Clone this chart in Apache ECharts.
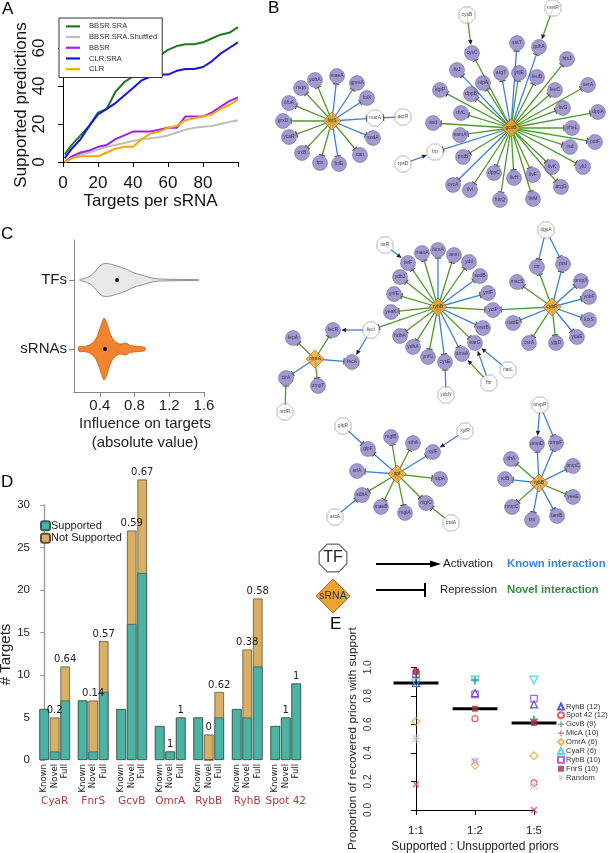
<!DOCTYPE html>
<html><head><meta charset="utf-8">
<script src="https://cdn.jsdelivr.net/npm/echarts@6/dist/echarts.min.js"></script>
<style>html,body{margin:0;padding:0;background:#fff}#c{width:609px;height:853px}</style>
</head><body><div id="c"></div>
<script>
// ================= DATA =================
// Panel A
const targetsPerSrna = [1,5,10,15,20,25,30,35,40,45,50,55,60,65,70,75,80,85,90,95,100];
const bbsrSra   = [4,9,14,19,26,28,37,42,45,50,53,56,59,61,62,62,63,65,67,68,71];
const bbsrSraSh = [0,2,4,5,6.5,8,9,10,11,12,12.5,13,14,15.5,17,18,18.5,19,20,21,22];
const bbsr      = [0,3,5,6,8,9,12,14,16,16,16,17,18,18,24,24,24,26,29,32,34];
const clrSra    = [2,7,12,19,25,28,31,35,39,43,45,46,46,48,49,49,50,53,57,60,63];
const clr       = [0,2,3,3,3,5,7,8,8,12,15,16,18,19,22,23,24,25,28,30,33];
const methodNames = ['BBSR.SRA','BBSR.SRA.Shuffled','BBSR','CLR.SRA','CLR'];

// Panel C (violin density estimates)
const violinNames = ['sRNAs','TFs'];
const tfViolinX   = [0.17,0.22,0.29,0.35,0.40,0.45,0.52,0.60,0.70,0.80,0.90,1.00,1.10,1.30,1.54];
const tfViolinD   = [0.5,1.5,4,9,14,16.5,16,14,11,7,4.5,2,1,0.6,0.3];
const srnaViolinX = [0.16,0.22,0.28,0.34,0.38,0.42,0.45,0.48,0.52,0.57,0.63,0.70,0.75,0.85,0.92];
const srnaViolinD = [2.5,2.5,4,8,15,25,31,26,15,8,5,6,3.5,2.5,1.5];
const violinMedians = [0.46,0.60];
const influenceTicks = [0.4,0.8,1.2,1.6];

// Panel D
const srnaGroups = ['CyaR','FnrS','GcvB','OmrA','RybB','RyhB','Spot 42'];
const barKinds = ['Known','Novel','Full'];
const supportedCounts    = [[6,1,7],[7,1,8],[6,16,22],[4,1,5],[5,0,5],[6,5,11],[4,5,9]];
const notSupportedCounts = [[0,4,4],[0,6,6],[0,11,11],[0,0,0],[0,3,3],[0,8,8],[0,0,0]];
const fractionLabels = [['','0.2','0.64'],['','0.14','0.57'],['','0.59','0.67'],['','1','1'],['','0','0.62'],['','0.38','0.58'],['','1','1']];

// Panel E
const ratioLabels = ['1:1','1:2','1:5'];
const eNames = ['RyhB (12)','Spot 42 (12)','GcvB (9)','MicA (10)','OmrA (6)','CyaR (6)','RybB (10)','FnrS (10)','Random'];
const propRyhB   = [0.89,0.82,0.74];
const propSpot42 = [0.97,0.64,0.19];
const propGcvB   = [0.93,0.91,0.635];
const propMicA   = [0.18,0.34,0.0];
const propOmrA   = [0.62,0.315,0.38];
const propCyaR   = [0.89,0.91,0.91];
const propRybB   = [0.95,0.81,0.78];
const propFnrS   = [0.97,0.71,0.61];
const propRandom = [0.50,0.34,0.17];
const propMedians = [0.89,0.71,0.61];

// Panel B network (layout positions)
const nodeName = ['fnrS','yobA','maeA','gpmA','folX','marA','acrR','sodA','can','folE','tpx','trxB','ycaR','grxD','nfuA','mqo',
 'gcvB','cysB','metR','cysC','sstT','gdhA','livJ','argT','yhjE','leuB','hisJ','nlpA','kgtP','dppB','leuC','serA','thrC','livG','dppA','asd','eamA','pheL','potF','trp','rpsD','pntB','rsd','livK','yliJ','cycA','ilvI','dppC','livH','livF','argG','hisQ','livM',
 'ryhB','isrR','isrF','manA','fumA','amn','ydiI','sodB','ydbJ','ynfF','ynfE','yeaK','yctP','msrB','hdhA','ydhA','ynfG','cysE','dmsA','narG','narL','fnr','ydcN','fecI',
 'cyaR','dgsA','crr','ptsI','mscS','ompX','yobF','luxS','yqaE','yjgD','csrA','nadE',
 'omrA','fepA','fecR','fecA','cirA','ompT','nrdR',
 'spf','glpR','glpF','mglB','sthA','xylF','xylR','stpA','srlA','sdhA','maeB','mglA','mglC','arcA','putA',
 'rybB','ompR','ompD','ompF','rihA','ompC','rclB','yeeE','nmpC','tsx','lamB'];
const nodeX = [332,315,337,357,367,375,403,373,360,339,320,302,289,283,289,301,
 511,467,553,472,517,539,457,501,519,537,567,483,440,471,555,588,461,563,598,433,460,572,595,435,403,463,570,552,583,453,470,494,514,533,561,500,533,
 438,385,408,422,438,454,469,480,400,488,394,391,493,483,400,413,428,445,462,475,508,489,446,371,
 552,546,537,563,517,581,589,589,577,556,529,513,
 315,293,333,352,286,318,285,
 397,343,368,391,413,433,465,440,357,362,381,405,426,335,451,
 539,540,537,556,511,573,505,573,512,532,557];
const nodeY = [121,80,76,83,98,118,117,138,155,164,163,153,137,121,103,88,
 128,15,8,53,43,47,70,73,73,77,59,83,90,94,90,85,113,108,112,123,135,128,142,152,164,157,147,167,167,185,190,173,178,175,187,200,199,
 307,245,263,253,250,255,262,276,277,293,294,312,310,328,336,347,357,362,354,343,370,383,395,330,
 307,230,267,264,282,281,297,320,337,343,343,323,
 359,338,330,362,378,386,412,
 474,426,449,437,443,452,431,479,471,495,507,513,503,517,523,
 483,405,444,443,459,466,479,497,507,520,516];
const nodeKind = ['S','T','T','T','T','F','F','T','T','T','T','T','T','T','T','T',
 'S','F','F','T','T','T','T','T','T','T','T','T','T','T','T','T','T','T','T','T','T','T','T','F','F','T','T','T','T','T','T','T','T','T','T','T','T',
 'S','F','T','T','T','T','T','T','T','T','T','T','T','T','T','T','T','T','T','T','F','F','F','F',
 'S','F','T','T','T','T','T','T','T','T','T','T',
 'S','T','T','T','T','T','F',
 'S','F','T','T','T','T','F','T','T','T','T','T','T','F','F',
 'S','F','T','T','T','T','T','T','T','T','T'];
// edges: [regulator, target, known(1)/novel(0), activation(1)/repression(0)]
const edgeList = [
 ['fnrS','yobA',0,0],['fnrS','maeA',1,0],['fnrS','gpmA',1,0],['fnrS','folX',1,0],['fnrS','marA',1,0],['fnrS','sodA',1,0],['fnrS','can',0,0],['fnrS','folE',1,0],['fnrS','tpx',0,0],['fnrS','trxB',0,0],['fnrS','ycaR',0,0],['fnrS','grxD',0,0],['fnrS','nfuA',0,0],['fnrS','mqo',0,0],['acrR','marA',1,0],
 ['cysB','cysC',0,1],['metR','gdhA',0,1],['rpsD','trp',1,1],
 ['gcvB','cysC',0,0],['gcvB','sstT',1,0],['gcvB','gdhA',1,0],['gcvB','livJ',1,0],['gcvB','argT',1,0],['gcvB','yhjE',0,0],['gcvB','leuB',0,0],['gcvB','hisJ',0,0],['gcvB','nlpA',0,0],['gcvB','kgtP',0,0],['gcvB','dppB',0,0],['gcvB','leuC',0,0],['gcvB','serA',0,0],['gcvB','thrC',0,0],['gcvB','livG',0,0],['gcvB','dppA',0,0],['gcvB','asd',0,0],['gcvB','eamA',0,0],['gcvB','pheL',0,0],['gcvB','potF',0,0],['gcvB','trp',1,0],['gcvB','pntB',0,0],['gcvB','rsd',0,0],['gcvB','livK',0,0],['gcvB','yliJ',0,0],['gcvB','cycA',1,0],['gcvB','ilvI',0,0],['gcvB','dppC',0,0],['gcvB','livH',0,0],['gcvB','livF',0,0],['gcvB','argG',0,0],['gcvB','hisQ',0,0],['gcvB','livM',0,0],
 ['isrR','isrF',1,1],['ryhB','isrF',0,0],['ryhB','manA',0,0],['ryhB','fumA',1,0],['ryhB','amn',0,0],['ryhB','ydiI',0,0],['ryhB','sodB',1,0],['ryhB','ydbJ',0,0],['ryhB','ynfF',1,0],['ryhB','ynfE',0,0],['ryhB','yeaK',0,0],['ryhB','yctP',0,0],['ryhB','msrB',1,0],['ryhB','hdhA',0,0],['ryhB','ydhA',0,0],['ryhB','ynfG',0,0],['ryhB','cysE',1,0],['ryhB','dmsA',1,0],['ryhB','narG',0,0],['ryhB','fecI',0,0],
 ['narL','narG',1,1],['fnr','narG',1,1],['fnr','dmsA',0,1],['ydcN','cysE',1,0],
 ['dgsA','crr',1,0],['dgsA','ptsI',1,0],['cyaR','crr',0,0],['cyaR','ptsI',1,0],['cyaR','mscS',0,0],['cyaR','ompX',1,0],['cyaR','yobF',1,0],['cyaR','luxS',1,0],['cyaR','yqaE',1,0],['cyaR','yjgD',0,0],['cyaR','csrA',0,0],['cyaR','nadE',1,0],['cyaR','yctP',0,0],
 ['omrA','fepA',0,0],['omrA','fecR',0,0],['omrA','fecA',1,0],['omrA','cirA',1,0],['omrA','ompT',0,0],['fecI','fecR',1,1],['fecI','fecA',1,1],['nrdR','cirA',0,0],
 ['glpR','glpF',1,0],['spf','glpF',1,0],['spf','mglB',0,0],['spf','sthA',0,0],['spf','xylF',1,0],['xylR','xylF',1,1],['spf','stpA',0,0],['spf','srlA',1,0],['spf','sdhA',0,0],['spf','maeB',0,0],['spf','mglA',0,0],['spf','mglC',0,0],['arcA','sdhA',1,0],['putA','mglC',0,0],
 ['ompR','ompD',1,1],['ompR','ompF',1,0],['rybB','ompD',1,0],['rybB','ompF',1,0],['rybB','rihA',0,0],['rybB','ompC',1,0],['rybB','rclB',1,0],['rybB','yeeE',0,0],['rybB','nmpC',0,0],['rybB','tsx',1,0],['rybB','lamB',1,0]
];

// ================= BUILD =================
const FONT = 'Liberation Sans, Arial, sans-serif';
const chart = echarts.init(document.getElementById('c'), null, {renderer:'canvas'});
const zip = (xs, ys) => xs.map((x,i)=>[x, ys[i]]);

// ---- A
const aColors = ['#1f7a1f','#bebebe','#a020f0','#1515e6','#ffa500'];
const aData = [bbsrSra, bbsrSraSh, bbsr, clrSra, clr];
const seriesA = methodNames.map((n,i)=>({
  name:n, type:'line', xAxisIndex:0, yAxisIndex:0, data: zip(targetsPerSrna, aData[i]),
  showSymbol:false, symbol:'none', clip:false, lineStyle:{width:2, color:aColors[i]}, itemStyle:{color:aColors[i]}, z: 2 + (i===1?0:1)
}));

// ---- C
const violins = [
  {x:srnaViolinX, d:srnaViolinD, fill:'#f28130', stroke:'#e06a1a'},
  {x:tfViolinX, d:tfViolinD, fill:'#e8e8e8', stroke:'#8e8e8e'}
];
const violinScale = 1.0;
const seriesC = [{
  type:'custom', xAxisIndex:1, yAxisIndex:1, clip:false,
  data: violinNames.map((n,i)=>[violinMedians[i], i+1, i]),
  encode:{x:0, y:1},
  renderItem: function(params, api){
    const v = violins[api.value(2)];
    const pos = api.value(1);
    const top=[], bot=[];
    for (let i=0;i<v.x.length;i++){
      const p = api.coord([v.x[i], pos]);
      top.push([p[0], p[1]-v.d[i]*violinScale]);
      bot.unshift([p[0], p[1]+v.d[i]*violinScale]);
    }
    const m = api.coord([api.value(0), pos]);
    return {type:'group', children:[
      {type:'polygon', shape:{points: top.concat(bot), smooth:0.25}, style:{fill:v.fill, stroke:v.stroke, lineWidth:1}},
      {type:'circle', shape:{cx:m[0], cy:m[1], r:2}, style:{fill:'#000'}}
    ]};
  }
}];

// ---- D
const barSpace = 11, barStep = 3;
const barPos = [], barLabelMap = {}, groupPos = [], groupLabelMap = {};
const totalData = [], suppData = [];
srnaGroups.forEach((g,gi)=>{
  const c = gi*barSpace + barStep;
  groupPos.push(c); groupLabelMap[c] = g;
  barKinds.forEach((k,bi)=>{
    const p = gi*barSpace + bi*barStep;
    barPos.push(p); barLabelMap[p] = k;
    const s = supportedCounts[gi][bi], ns = notSupportedCounts[gi][bi];
    const lab = fractionLabels[gi][bi];
    totalData.push({value:[p, s+ns], label:{show: lab!=='' , formatter: lab}});
    suppData.push([p, s]);
  });
});
const seriesD = [
  {name:'Not Supported', type:'bar', xAxisIndex:2, yAxisIndex:2, barWidth:9.6, barGap:'-100%', clip:false,
   itemStyle:{color:'#d8b062', borderColor:'#5a5040', borderWidth:0.8}, data: totalData,
   label:{position:'top', distance:2, fontSize:10, color:'#222', fontFamily:'DejaVu Sans'}},
  {name:'Supported', type:'bar', xAxisIndex:2, yAxisIndex:2, barWidth:9.6, barGap:'-100%', clip:false,
   itemStyle:{color:'#4bb3a4', borderColor:'#3a5a55', borderWidth:0.8}, data: suppData}
];

// ---- E
const plusPath = 'path://M4,0h2v4h4v2h-4v4h-2v-4h-4v-2h4z';
const starPath = 'path://M4.3,0h1.4v10h-1.4z M0,4.3h10v1.4h-10z M1.2,0.2L9.8,8.8L8.8,9.8L0.2,1.2z M8.8,0.2L9.8,1.2L1.2,9.8L0.2,8.8z';
const eValues = [propRyhB, propSpot42, propGcvB, propMicA, propOmrA, propCyaR, propRybB, propFnrS, propRandom];
const eStyle = [
  {symbol:'triangle', size:7, color:'#2b35c8', open:true},
  {symbol:'circle', size:6, color:'#e03838', open:true},
  {symbol:plusPath, size:8, color:'#19884a', open:false},
  {symbol:plusPath, size:8, color:'#d040a0', open:false, rot:45},
  {symbol:'diamond', size:8, color:'#f0a020', open:true},
  {symbol:'triangle', size:8, color:'#26d0e6', open:true, rot:180},
  {symbol:'rect', size:6.5, color:'#9a40d8', open:true},
  {symbol:'rect', size:6, color:'#a8304a', open:false},
  {symbol:starPath, size:9, color:'#c8c8c8', open:false}
];
const seriesE = eNames.map((n,i)=>{
  const st = eStyle[i];
  return {name:n, type:'scatter', xAxisIndex:4, yAxisIndex:3, clip:false, z:4,
    data: eValues[i].map((v,j)=>[j, v]), symbol: st.symbol, symbolSize: st.size, symbolRotate: st.rot||0,
    itemStyle: st.open ? {color:'rgba(255,255,255,0)', borderColor:st.color, borderWidth:1.2} : {color:st.color}};
});
seriesE.unshift({type:'custom', xAxisIndex:4, yAxisIndex:3, clip:false, z:3,
  data: propMedians.map((v,j)=>[j, v]),
  renderItem: function(params, api){
    const a = api.coord([api.value(0)-0.38, api.value(1)]);
    const b = api.coord([api.value(0)+0.38, api.value(1)]);
    return {type:'line', shape:{x1:a[0], y1:a[1], x2:b[0], y2:b[1]}, style:{stroke:'#000', lineWidth:3}};
  }});

// ---- B network
const idx = {}; nodeName.forEach((n,i)=> idx[n]=i);
const radiusOf = {T:7.5, F:8, S:8.5};
const BLUE = '#3a80d8', GREEN = '#4e9a2c';
const edgeData = edgeList.map(e=>{
  const a = idx[e[0]], b = idx[e[1]];
  return [nodeX[a], nodeY[a], nodeX[b], nodeY[b], e[2], e[3], radiusOf[nodeKind[b]]];
});
const seriesBEdges = {type:'custom', xAxisIndex:5, yAxisIndex:4, clip:false, z:1, silent:true,
  data: edgeData,
  renderItem: function(params, api){
    const a = api.coord([api.value(0), api.value(1)]);
    const b = api.coord([api.value(2), api.value(3)]);
    const known = api.value(4), act = api.value(5), r = api.value(6);
    const dx=b[0]-a[0], dy=b[1]-a[1], L=Math.hypot(dx,dy)||1; const ux=dx/L, uy=dy/L;
    const e=[b[0]-ux*(r+0.6), b[1]-uy*(r+0.6)];
    const px=-uy, py=ux;
    const col = known ? BLUE : GREEN;
    const ch = [];
    if (act){
      const base=[e[0]-ux*5, e[1]-uy*5];
      ch.push({type:'line', shape:{x1:a[0],y1:a[1],x2:base[0],y2:base[1]}, style:{stroke:col, lineWidth:1.3}});
      ch.push({type:'polygon', shape:{points:[e,[base[0]+px*2.2,base[1]+py*2.2],[base[0]-px*2.2,base[1]-py*2.2]]}, style:{fill:'#222'}});
    } else {
      ch.push({type:'line', shape:{x1:a[0],y1:a[1],x2:e[0],y2:e[1]}, style:{stroke:col, lineWidth:1.3}});
      ch.push({type:'line', shape:{x1:e[0]+px*3.2,y1:e[1]+py*3.2,x2:e[0]-px*3.2,y2:e[1]-py*3.2}, style:{stroke:'#555', lineWidth:1.2}});
    }
    return {type:'group', children:ch};
  }};
const octPath = 'path://M29,0L71,0L100,29L100,71L71,100L29,100L0,71L0,29Z';
function nodesOf(kind){ return nodeName.map((n,i)=> nodeKind[i]===kind ? {name:n, value:[nodeX[i], nodeY[i]]} : null).filter(Boolean); }
const nodeLabel = {show:true, position:'inside', formatter:'{b}', fontSize:5, color:'#1a1a2a', fontFamily:FONT};
const seriesBNodes = [
  {type:'scatter', xAxisIndex:5, yAxisIndex:4, clip:false, z:2, data:nodesOf('T'), symbol:'circle', symbolSize:15,
   itemStyle:{color:'#8a7fc4', borderColor:'#5f5696', borderWidth:0.6}, label:nodeLabel},
  {type:'scatter', xAxisIndex:5, yAxisIndex:4, clip:false, z:2, data:nodesOf('F'), symbol:octPath, symbolSize:16,
   itemStyle:{color:'#ffffff', borderColor:'#8a8a8a', borderWidth:0.8}, label:nodeLabel},
  {type:'scatter', xAxisIndex:5, yAxisIndex:4, clip:false, z:3, data:nodesOf('S'), symbol:'diamond', symbolSize:18,
   itemStyle:{color:'#f2a230', borderColor:'#a86a18', borderWidth:0.8}, label:nodeLabel}
];

// ---- B legend artwork + panel letters
function octPts(cx, cy, r){ const p=[]; for(let k=0;k<8;k++){ const a=Math.PI/8+k*Math.PI/4; p.push([cx+r*Math.cos(a), cy+r*Math.sin(a)]);} return p; }
const graphics = [
  {type:'text', x:2, y:1, style:{text:'A', font:'17px '+FONT, fill:'#000'}},
  {type:'text', x:268, y:0, style:{text:'B', font:'17px '+FONT, fill:'#000'}},
  {type:'text', x:1, y:226, style:{text:'C', font:'17px '+FONT, fill:'#000'}},
  {type:'text', x:1, y:474, style:{text:'D', font:'17px '+FONT, fill:'#000'}},
  {type:'text', x:330, y:616, style:{text:'E', font:'17px '+FONT, fill:'#000'}},
  {type:'polygon', shape:{points:octPts(333,558,15)}, style:{fill:'#fff', stroke:'#666', lineWidth:1.2}},
  {type:'text', x:333, y:558, style:{text:'TF', font:'16px '+FONT, fill:'#222', align:'center', verticalAlign:'middle'}},
  {type:'polygon', shape:{points:[[333,579],[350,596],[333,613],[316,596]]}, style:{fill:'#f2a230', stroke:'#a86a18', lineWidth:1}},
  {type:'text', x:333, y:596, style:{text:'sRNA', font:'10.5px '+FONT, fill:'#333', align:'center', verticalAlign:'middle'}},
  {type:'line', shape:{x1:376,y1:564,x2:432,y2:564}, style:{stroke:'#000', lineWidth:2}},
  {type:'polygon', shape:{points:[[441,564],[430,560.5],[430,567.5]]}, style:{fill:'#000'}},
  {type:'text', x:443, y:564, style:{text:'Activation', font:'11.5px '+FONT, fill:'#222', verticalAlign:'middle'}},
  {type:'text', x:507, y:564, style:{text:'Known interaction', font:'bold 11.3px '+FONT, fill:'#3a86e0', verticalAlign:'middle'}},
  {type:'line', shape:{x1:376,y1:590,x2:425,y2:590}, style:{stroke:'#000', lineWidth:2}},
  {type:'line', shape:{x1:425,y1:583,x2:425,y2:597}, style:{stroke:'#000', lineWidth:2}},
  {type:'text', x:440, y:590, style:{text:'Repression', font:'11.3px '+FONT, fill:'#222', verticalAlign:'middle'}},
  {type:'text', x:507, y:590, style:{text:'Novel interaction', font:'bold 11.3px '+FONT, fill:'#2e9040', verticalAlign:'middle'}}
];

const blackAxis = {lineStyle:{color:'#000', width:1}};
const greyAxis = {lineStyle:{color:'#888', width:1}};
const option = {
  animation:false,
  backgroundColor:'#fff',
  textStyle:{fontFamily:FONT},
  graphic:{elements:graphics},
  legend:[
    {data:methodNames, orient:'vertical', left:59, top:18, icon:'rect', itemWidth:14, itemHeight:2.2, itemGap:0,
     padding:[3,5,3,7], borderColor:'#333', borderWidth:1, backgroundColor:'#fff', z:10,
     textStyle:{fontSize:7.6, color:'#333', lineHeight:10.7, padding:[0,0,0,4]}},
    {data:['Supported','Not Supported'], orient:'vertical', left:40, top:520, itemWidth:9, itemHeight:9, itemGap:1, padding:0,
     textStyle:{fontSize:11, color:'#222', lineHeight:11.5, padding:[0,0,0,-4]}},
    {data:eNames, orient:'vertical', left:557, top:702, itemWidth:6, itemHeight:6, itemGap:0, padding:0,
     textStyle:{fontSize:7.6, color:'#333', lineHeight:8.9, padding:[0,0,0,-3]}}
  ],
  grid:[
    {left:63, top:48, width:175, height:114, outerBoundsMode:'none'},
    {left:74, top:240, width:130, height:152, outerBoundsMode:'none'},
    {left:33, top:505, width:272, height:255, outerBoundsMode:'none'},
    {left:416, top:667.3, width:118, height:142.7, outerBoundsMode:'none'},
    {left:240, top:0, width:369, height:540, outerBoundsMode:'none'}
  ],
  xAxis:[
    {gridIndex:0, type:'value', min:0, max:100, interval:20, offset:8, axisLine:blackAxis, axisTick:{length:5, lineStyle:{color:'#000'}},
     axisLabel:{fontSize:17, color:'#111', margin:5, formatter:v=> v===100?'':String(v)}, splitLine:{show:false},
     name:'Targets per sRNA', nameLocation:'middle', nameGap:20, nameTextStyle:{fontSize:17, color:'#111'}},
    {gridIndex:1, type:'value', min:0.103, max:1.6, axisLine:greyAxis, axisTick:{length:5, lineStyle:{color:'#888'}, customValues:influenceTicks},
     axisLabel:{fontSize:15, color:'#222', margin:6, customValues:influenceTicks, formatter:v=>v.toFixed(1)}, splitLine:{show:false},
     name:'Influence on targets\n(absolute value)', nameLocation:'middle', nameGap:21, nameTextStyle:{fontSize:15, color:'#222', lineHeight:19, padding:[0,0,0,12]}},
    {gridIndex:2, type:'value', min:-3.2, max:74.5, axisLine:{show:false}, axisTick:{show:false}, splitLine:{show:false},
     axisLabel:{customValues:barPos, hideOverlap:false, showMinLabel:true, showMaxLabel:true, formatter:v=>barLabelMap[Math.round(v)]||'', rotate:90, fontSize:8.5, color:'#222', margin:4, fontFamily:'DejaVu Sans'}},
    {gridIndex:2, type:'value', min:-3.2, max:74.5, position:'bottom', axisLine:{show:false}, axisTick:{show:false}, splitLine:{show:false},
     axisLabel:{customValues:groupPos, hideOverlap:false, formatter:v=>groupLabelMap[Math.round(v)]||'', fontSize:10.5, color:'#b53838', margin:36, fontFamily:'DejaVu Sans'}},
    {gridIndex:3, type:'value', min:0, max:2, offset:7, axisLine:blackAxis, axisTick:{length:5, lineStyle:{color:'#000'}, customValues:[0,1,2]},
     axisLabel:{customValues:[0,1,2], formatter:v=>ratioLabels[Math.round(v)], fontSize:11.5, color:'#222', margin:8}, splitLine:{show:false},
     name:'Supported : Unsupported priors', nameLocation:'middle', nameGap:24, nameTextStyle:{fontSize:12, color:'#222'}},
    {gridIndex:4, type:'value', min:240, max:609, show:false}
  ],
  yAxis:[
    {gridIndex:0, type:'value', min:0, max:60, interval:20, offset:10, axisLine:{show:true, lineStyle:{color:'#000'}}, axisTick:{show:true, length:5, lineStyle:{color:'#000'}},
     axisLabel:{fontSize:17, color:'#111', rotate:90, margin:5}, splitLine:{show:false},
     name:'Supported predictions', nameLocation:'middle', nameGap:21, nameTextStyle:{fontSize:17, color:'#111'}},
    {gridIndex:1, type:'value', min:0.377, max:2.58, axisLine:{show:true, lineStyle:{color:'#888'}}, axisTick:{show:true, length:5, lineStyle:{color:'#888'}, customValues:[1,2]},
     axisLabel:{customValues:[1,2], formatter:v=>violinNames[Math.round(v)-1], fontSize:15, color:'#222', margin:7}, splitLine:{show:false}},
    {gridIndex:2, type:'value', min:0, max:30, interval:5, axisLine:{show:true, lineStyle:{color:'#999', width:1.3}}, axisTick:{show:true, length:4, lineStyle:{color:'#999'}},
     axisLabel:{fontSize:11.5, color:'#222', margin:3}, splitLine:{show:false},
     name:'# Targets', nameLocation:'middle', nameGap:16, nameTextStyle:{fontSize:15, color:'#222', padding:[0,44,0,0]}},
    {gridIndex:3, type:'value', min:0, max:1, interval:0.2, offset:38, axisLine:{show:true, lineStyle:{color:'#000'}}, axisTick:{show:true, length:5, lineStyle:{color:'#000'}},
     axisLabel:{fontSize:10, color:'#333', rotate:90, margin:5, formatter:v=>v.toFixed(1)}, splitLine:{show:false},
     name:'Proportion of recovered priors with support', nameLocation:'middle', nameGap:19, nameTextStyle:{fontSize:11.8, color:'#222'}},
    {gridIndex:4, type:'value', min:0, max:540, inverse:true, show:false}
  ],
  series: [].concat(seriesA, seriesC, seriesD, seriesE, [seriesBEdges], seriesBNodes)
};
chart.setOption(option);
</script></body></html>
